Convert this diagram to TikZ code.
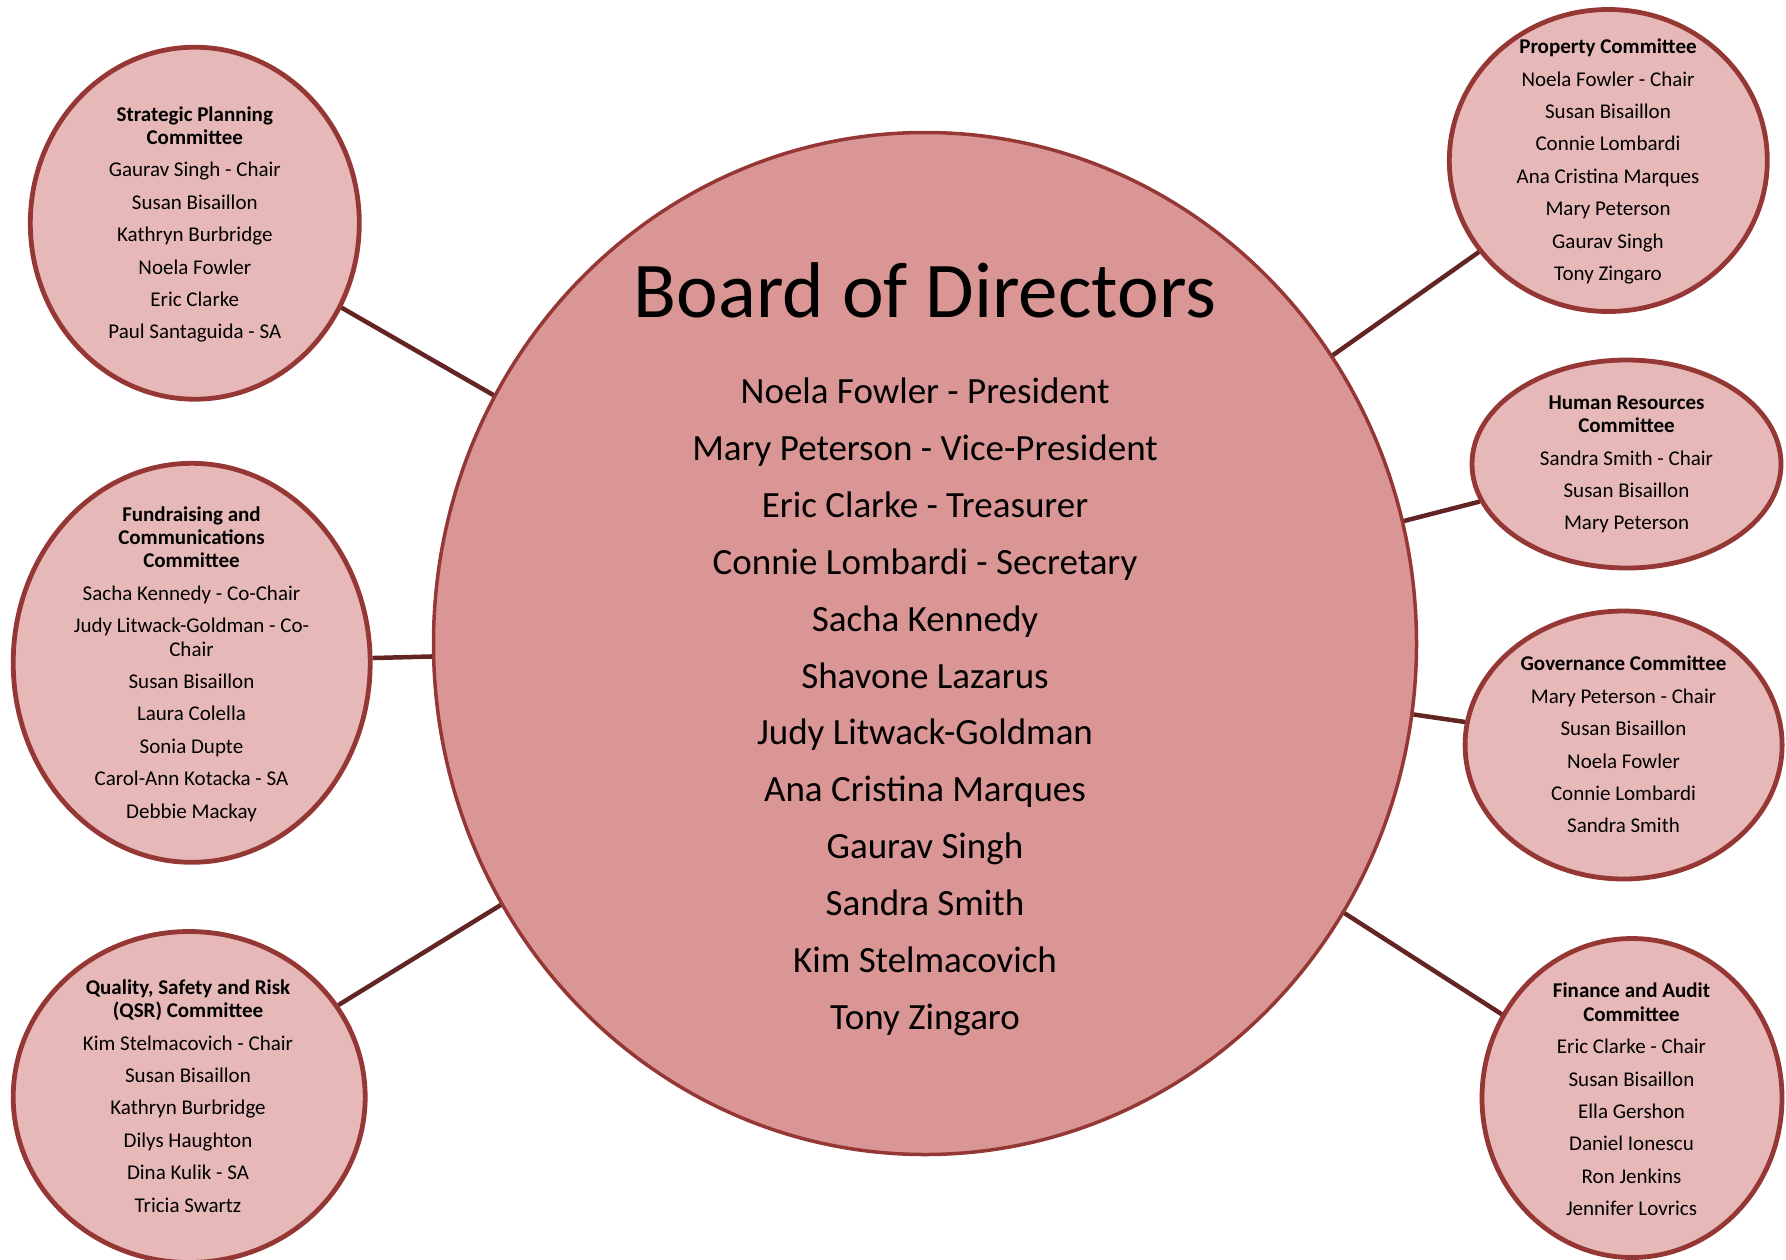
\documentclass[tikz,border=0pt]{standalone}
\usepackage{fontspec}
\setmainfont{Carlito}
\usetikzlibrary{shapes.geometric}
\definecolor{smallfill}{HTML}{E6B9B8}
\definecolor{bigfill}{HTML}{D99694}
\definecolor{rim}{HTML}{953735}
\definecolor{linkc}{HTML}{632523}
\newcommand\pgap{\\[9.1pt]}
\begin{document}
\begin{tikzpicture}[x=1pt,y=-1pt,
  comm/.style={ellipse, draw=rim, line width=4.8pt, fill=smallfill, inner sep=0pt},
  board/.style={ellipse, draw=rim, line width=3.5pt, fill=bigfill, inner sep=0pt},
  connector/.style={draw=linkc, line width=4.5pt},
  ctext/.style={align=center, font=\fontsize{21}{23.3}\selectfont, inner sep=0pt},
  btext/.style={font=\fontsize{37}{44}\selectfont, anchor=base, inner sep=0pt},
  ttext/.style={font=\fontsize{79}{90}\selectfont, anchor=base, inner sep=0pt}]
\useasboundingbox (0,0) rectangle (1786,1259);
\clip (0,0) rectangle (1786,1259);

% circles
\node[board, minimum width=983pt, minimum height=1022pt] (bod) at (925,643.5) {};
\node[comm, minimum width=329pt, minimum height=352pt] (sp) at (194.8,223.2) {};
\node[comm, minimum width=357pt, minimum height=399pt] (fr) at (191.7,662.8) {};
\node[comm, minimum width=352pt, minimum height=331pt] (qsr) at (189.2,1097) {};
\node[comm, minimum width=318pt, minimum height=302pt] (pc) at (1608.3,160.5) {};
\node[comm, minimum width=309pt, minimum height=208pt] (hr) at (1626.5,464) {};
\node[comm, minimum width=317pt, minimum height=268pt] (gc) at (1623.6,745) {};
\node[comm, minimum width=300pt, minimum height=319pt] (fa) at (1632,1098) {};

% connectors
\draw[connector] (sp) -- (bod);
\draw[connector] (fr) -- (bod);
\draw[connector] (qsr) -- (bod);
\draw[connector] (pc) -- (bod);
\draw[connector] (hr) -- (bod);
\draw[connector] (gc) -- (bod);
\draw[connector] (fa) -- (bod);

% board text
\node[ttext] (title) at (925,317.5) {Board of Directors};
\foreach \t [count=\i from 0] in {Noela Fowler - President, Mary Peterson - Vice-President, Eric Clarke - Treasurer, Connie Lombardi - Secretary, Sacha Kennedy, Shavone Lazarus, Judy Litwack-Goldman, Ana Cristina Marques, Gaurav Singh, Sandra Smith, Kim Stelmacovich, Tony Zingaro}
  \node[btext] (m\i) at ({925},{403.5+56.9*\i}) {\t};

% committee texts
\node[ctext] (tsp) at (194.8,224.5) {\textbf{Strategic Planning}\\\textbf{Committee}\pgap Gaurav Singh - Chair\pgap Susan Bisaillon\pgap Kathryn Burbridge\pgap Noela Fowler\pgap Eric Clarke\pgap Paul Santaguida - SA};
\node[ctext] (tfr) at (191.5,664) {\textbf{Fundraising and}\\\textbf{Communications}\\\textbf{Committee}\pgap Sacha Kennedy - Co-Chair\pgap Judy Litwack-Goldman - Co-\\Chair\pgap Susan Bisaillon\pgap Laura Colella\pgap Sonia Dupte\pgap Carol-Ann Kotacka - SA\pgap Debbie Mackay};
\node[ctext] (tqsr) at (188,1096) {\textbf{Quality, Safety and Risk}\\\textbf{(QSR) Committee}\pgap Kim Stelmacovich - Chair\pgap Susan Bisaillon\pgap Kathryn Burbridge\pgap Dilys Haughton\pgap Dina Kulik - SA\pgap Tricia Swartz};
\node[ctext] (tpc) at (1608,161.5) {\textbf{Property Committee}\pgap Noela Fowler - Chair\pgap Susan Bisaillon\pgap Connie Lombardi\pgap Ana Cristina Marques\pgap Mary Peterson\pgap Gaurav Singh\pgap Tony Zingaro};
\node[ctext] (thr) at (1626.5,464.5) {\textbf{Human Resources}\\\textbf{Committee}\pgap Sandra Smith - Chair\pgap Susan Bisaillon\pgap Mary Peterson};
\node[ctext] (tgc) at (1623.5,744.5) {\textbf{Governance Committee}\pgap Mary Peterson - Chair\pgap Susan Bisaillon\pgap Noela Fowler\pgap Connie Lombardi\pgap Sandra Smith};
\node[ctext] (tfa) at (1631.5,1099.5) {\textbf{Finance and Audit}\\\textbf{Committee}\pgap Eric Clarke - Chair\pgap Susan Bisaillon\pgap Ella Gershon\pgap Daniel Ionescu\pgap Ron Jenkins\pgap Jennifer Lovrics};
\end{tikzpicture}
\end{document}
